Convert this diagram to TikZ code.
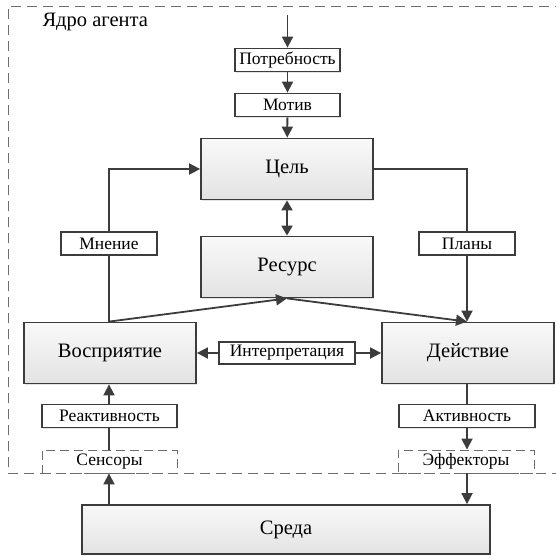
\documentclass[tikz,border=0pt]{standalone}
\usepackage{fontspec}
\setmainfont{Liberation Serif}
\usetikzlibrary{arrows.meta,shadows,calc}
\definecolor{ln}{HTML}{3C3C3C}
\begin{document}
\begin{tikzpicture}[x=1pt,y=-1pt,
  conn/.style={draw=ln,line width=1.8pt},
  arr/.style={conn,-{Triangle[length=11pt,width=11pt]}},
  darr/.style={conn,{Triangle[length=10pt,width=11pt]}-{Triangle[length=10pt,width=11pt]}},
  shd/.style={drop shadow={shadow xshift=1.3pt,shadow yshift=-1.3pt,opacity=0.22}},
  bigbox/.style={draw=ln,line width=1.8pt,top color=gray!5,bottom color=gray!22,
    minimum width=172pt,minimum height=61pt,inner sep=0pt,shd,
    font=\fontsize{20.5}{24}\selectfont},
  smallbox/.style={draw=ln,line width=1.8pt,fill=white,minimum height=23pt,
    inner sep=0pt,shd,font=\fontsize{17.5}{20}\selectfont},
  dbox/.style={draw=ln!75,dash pattern=on 9pt off 5pt,line width=0.9pt,fill=white,
    minimum height=23pt,inner sep=0pt,font=\fontsize{17.5}{20}\selectfont},
  outer/.style={draw=ln!75,dash pattern=on 10pt off 6pt,line width=0.9pt}
]
\useasboundingbox (0,0) rectangle (555,556);
\draw[outer] (562,473) -- (8,473) -- (8,6) -- (562,6);
\node[anchor=west,font=\fontsize{20.5}{24}\selectfont] (core) at (39,22) {Ядро агента};

\coordinate (top) at (287.5,15);
\node[smallbox,minimum width=105pt] (need) at (287.5,60) {Потребность};
\node[smallbox,minimum width=105pt] (motive) at (287.5,105) {Мотив};
\node[bigbox] (goal) at (287,169) {Цель};
\node[bigbox] (res) at (287,267) {Ресурс};
\node[smallbox,minimum width=96pt] (opinion) at (109,243.5) {Мнение};
\node[smallbox,minimum width=96pt] (plans) at (467,243.5) {Планы};
\node[bigbox] (perc) at (110,353) {Восприятие};
\node[bigbox] (act) at (468,353) {Действие};
\node[smallbox,minimum width=136pt,minimum height=22pt] (interp) at (287,353) {Интерпретация};
\node[smallbox,minimum width=135pt] (react) at (109.5,416) {Реактивность};
\node[smallbox,minimum width=136pt] (activ) at (467,416) {Активность};
\node[dbox,minimum width=135pt] (sens) at (109.5,461.5) {Сенсоры};
\node[dbox,minimum width=136pt] (eff) at (466,461.5) {Эффекторы};
\node[draw=ln,line width=1.8pt,top color=gray!5,bottom color=gray!22,shd,
  minimum width=408pt,minimum height=49pt,inner sep=0pt,
  font=\fontsize{20.5}{24}\selectfont] (env) at (286,529.5) {Среда};

\coordinate (pt) at (109,353);
\coordinate (at) at (467,353);

\draw[arr] (top) -- (need);
\draw[arr] (need) -- (motive);
\draw[arr] (motive) -- (goal);
\draw[darr] (goal) -- (res);
\draw[conn] (perc.north -| pt) -- (opinion.south);
\draw[arr] (opinion.north) |- (goal.west);
\draw[conn] (goal.east) -| (plans.north);
\draw[arr] (plans.south) -- (act.north -| at);
\draw[arr] (perc.north -| pt) -- (res.south);
\draw[arr] (res.south) -- (act.north -| at);
\draw[arr] (interp.west) -- (perc.east);
\draw[arr] (interp.east) -- (act.west);
\draw[arr] (react.north -| pt) -- (perc.south -| pt);
\draw[conn] (sens.north -| pt) -- (react.south -| pt);
\draw[arr] (env.north -| pt) -- (sens.south -| pt);
\draw[conn] (act.south -| at) -- (activ.north -| at);
\draw[arr] (activ.south -| at) -- (eff.north -| at);
\draw[arr] (eff.south -| at) -- (env.north -| at);
\end{tikzpicture}
\end{document}
